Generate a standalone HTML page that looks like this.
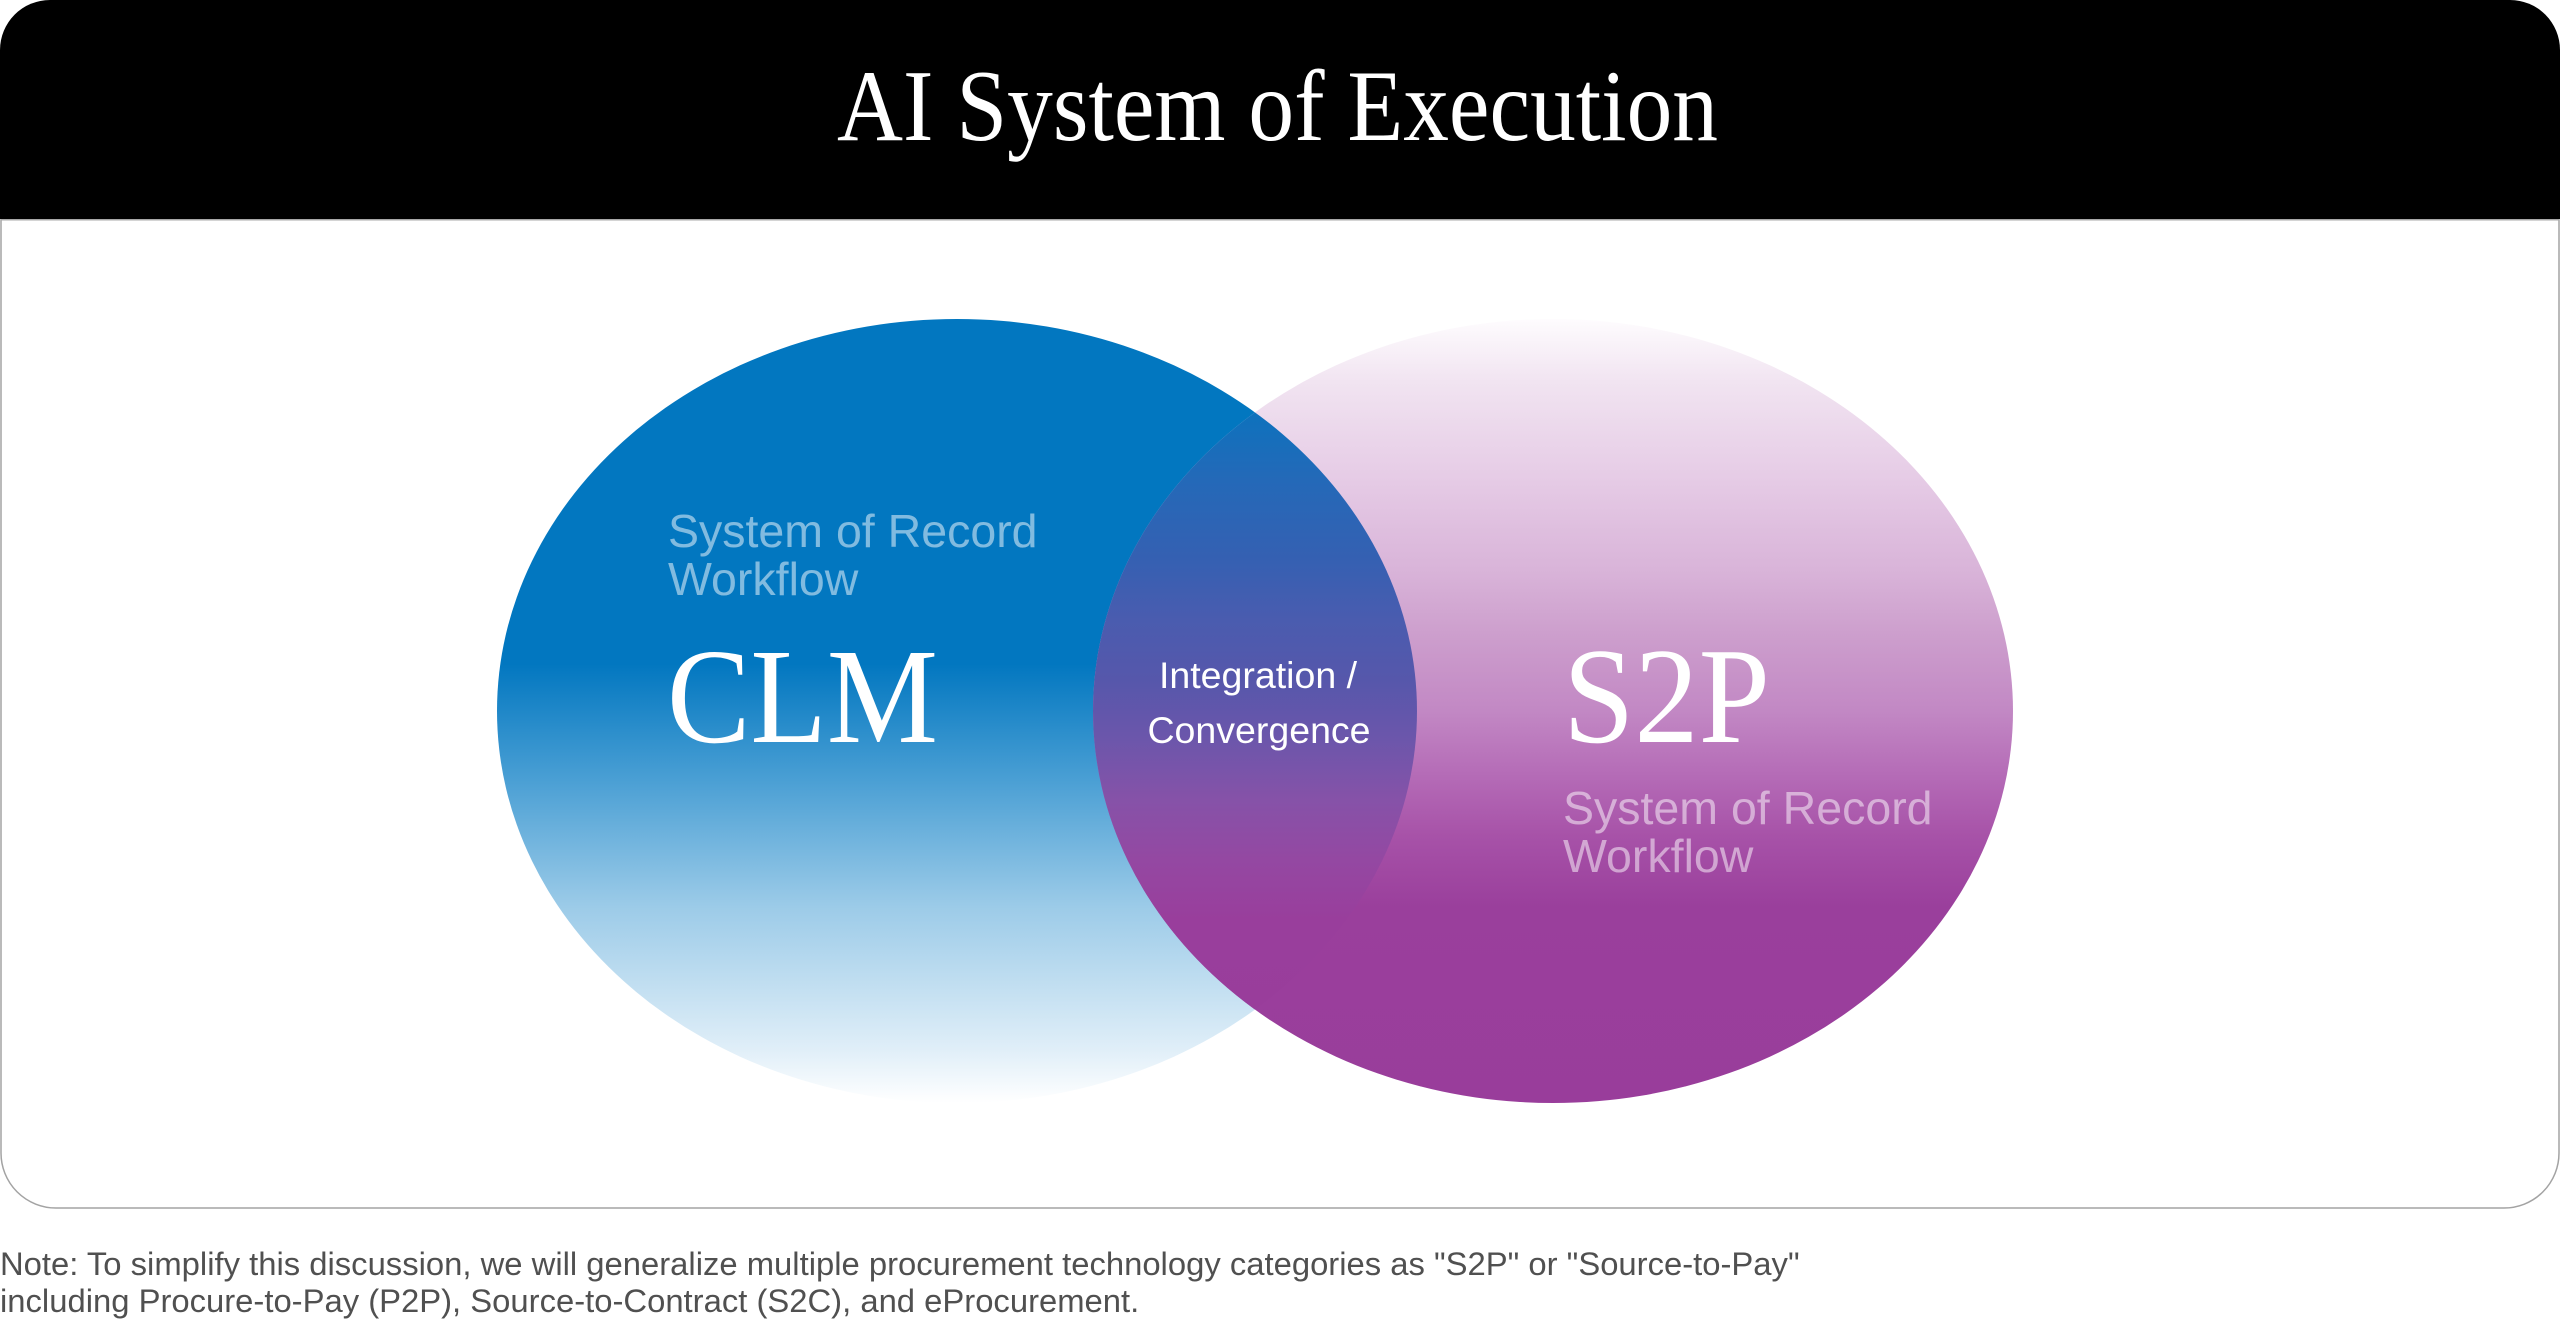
<!DOCTYPE html>
<html>
<head>
<meta charset="utf-8">
<style>
  html, body { margin: 0; padding: 0; background: #ffffff; }
  body { width: 2560px; height: 1320px; overflow: hidden; }
  svg { display: block; }
</style>
</head>
<body>
<svg xmlns="http://www.w3.org/2000/svg" width="2560" height="1320" viewBox="0 0 2560 1320">
  <defs>
    <linearGradient id="blueG" gradientUnits="userSpaceOnUse" x1="0" y1="319" x2="0" y2="1103">
      <stop offset="0" stop-color="#0277c0"/>
      <stop offset="0.44" stop-color="#0277c0"/>
      <stop offset="0.588" stop-color="#4a9fd4"/>
      <stop offset="0.75" stop-color="#9ccbe8"/>
      <stop offset="0.93" stop-color="#dfeef8"/>
      <stop offset="1" stop-color="#ffffff"/>
    </linearGradient>
    <linearGradient id="purpleG" gradientUnits="userSpaceOnUse" x1="0" y1="319" x2="0" y2="1103">
      <stop offset="0" stop-color="#fefcfe"/>
      <stop offset="0.08" stop-color="#f1e4f1"/>
      <stop offset="0.2" stop-color="#e6cce6"/>
      <stop offset="0.32" stop-color="#d9b4d9"/>
      <stop offset="0.4" stop-color="#cd9fcd"/>
      <stop offset="0.5" stop-color="#c288c4"/>
      <stop offset="0.58" stop-color="#b56cb7"/>
      <stop offset="0.66" stop-color="#a752a8"/>
      <stop offset="0.75" stop-color="#9a3f9c"/>
      <stop offset="1" stop-color="#993d9b"/>
    </linearGradient>
    <linearGradient id="lensG" gradientUnits="userSpaceOnUse" x1="0" y1="412" x2="0" y2="1010">
      <stop offset="0" stop-color="#0d72bd"/>
      <stop offset="0.114" stop-color="#2469b8"/>
      <stop offset="0.247" stop-color="#3560b2"/>
      <stop offset="0.348" stop-color="#4a5caf"/>
      <stop offset="0.448" stop-color="#5657ab"/>
      <stop offset="0.548" stop-color="#6c56ab"/>
      <stop offset="0.649" stop-color="#8652a8"/>
      <stop offset="0.749" stop-color="#9448a2"/>
      <stop offset="0.85" stop-color="#993e9c"/>
      <stop offset="1" stop-color="#993d9b"/>
    </linearGradient>
    <clipPath id="clipBlue">
      <ellipse cx="957" cy="711" rx="460" ry="392"/>
    </clipPath>
  </defs>

  <!-- Card body -->
  <path d="M1,60 V1153 A55,55 0 0 0 56,1208 H2504 A55,55 0 0 0 2559,1153 V60 Z"
        fill="#ffffff" stroke="#a3a3a3" stroke-width="1.5"/>
  <!-- Header -->
  <path d="M0,219 V50 A50,50 0 0 1 50,0 H2510 A50,50 0 0 1 2560,50 V219 Z" fill="#000000"/>
  <line x1="1" y1="219.75" x2="2559" y2="219.75" stroke="#a8a8a8" stroke-width="1.5"/>

  <text x="837" y="140" font-family="'Liberation Serif', serif" font-size="102" fill="#ffffff"
        textLength="881" lengthAdjust="spacingAndGlyphs">AI System of Execution</text>

  <!-- Ellipses -->
  <ellipse cx="957" cy="711" rx="460" ry="392" fill="url(#blueG)"/>
  <ellipse cx="1553" cy="711" rx="460" ry="392" fill="url(#purpleG)"/>
  <g clip-path="url(#clipBlue)">
    <ellipse cx="1553" cy="711" rx="460" ry="392" fill="url(#lensG)"/>
  </g>

  <!-- Left labels -->
  <g font-family="'Liberation Sans', sans-serif" font-size="46.5" fill="#ffffff" fill-opacity="0.5">
    <text x="668" y="547">System of Record</text>
    <text x="668" y="595">Workflow</text>
  </g>
  <text x="667" y="742" font-family="'Liberation Serif', serif" font-size="136" fill="#ffffff"
        textLength="271" lengthAdjust="spacingAndGlyphs">CLM</text>

  <!-- Center labels -->
  <g font-family="'Liberation Sans', sans-serif" font-size="37.5" fill="#ffffff" text-anchor="middle">
    <text x="1258" y="688">Integration /</text>
    <text x="1259" y="743">Convergence</text>
  </g>

  <!-- Right labels -->
  <text x="1563" y="742" font-family="'Liberation Serif', serif" font-size="137" fill="#ffffff"
        textLength="207" lengthAdjust="spacingAndGlyphs">S2P</text>
  <g font-family="'Liberation Sans', sans-serif" font-size="46.5" fill="#ffffff" fill-opacity="0.5">
    <text x="1563" y="824">System of Record</text>
    <text x="1563" y="872">Workflow</text>
  </g>

  <!-- Note -->
  <g font-family="'Liberation Sans', sans-serif" font-size="32.8" fill="#505050">
    <text x="0" y="1275">Note: To simplify this discussion, we will generalize multiple procurement technology categories as "S2P" or "Source-to-Pay"</text>
    <text x="0" y="1312">including Procure-to-Pay (P2P), Source-to-Contract (S2C), and eProcurement.</text>
  </g>
</svg>
</body>
</html>
